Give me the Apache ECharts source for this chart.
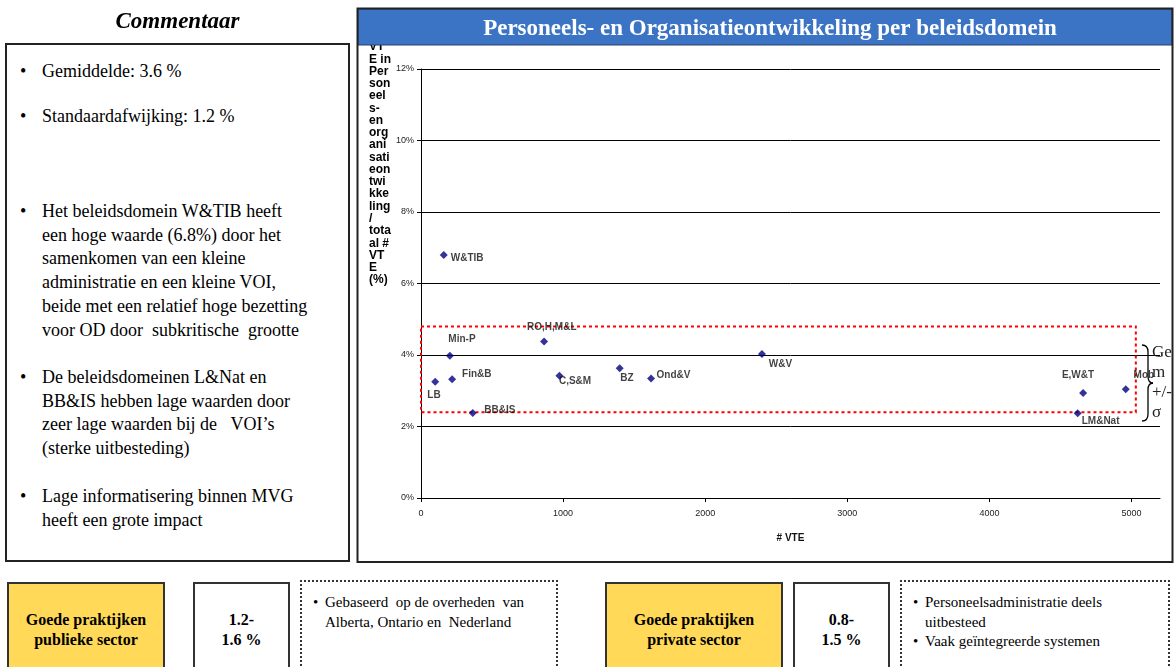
<!DOCTYPE html>
<html>
<head>
<meta charset="utf-8">
<title>Personeels- en Organisatieontwikkeling per beleidsdomein</title>
<script src="https://cdn.jsdelivr.net/npm/echarts@6/dist/echarts.min.js"></script>
<style>
  html, body { margin: 0; padding: 0; background: #fff; }
  #stage { position: relative; width: 1175px; height: 667px; overflow: hidden;
           font-family: 'Liberation Serif', 'Times New Roman', serif; color: #000; }
  #chart { position: absolute; left: 0; top: 0; width: 1175px; height: 667px; }
  .abs { position: absolute; box-sizing: border-box; }
  #commentTitle { left: 5px; top: 7px; width: 345px; text-align: center; font-weight: bold;
                  font-style: italic; font-size: 23px; line-height: 28px; }
  #commentBox { left: 5px; top: 43px; width: 345px; height: 519px; border: 2px solid #222; background: #fff; }
  .pt { position: absolute; left: 42px; font-size: 18px; line-height: 23.7px; white-space: nowrap; }
  .pt::before { content: '\2022'; position: absolute; left: -22px; }
  .yel { background: #FFD957; border: 2px solid #333; text-align: center; font-weight: bold;
         font-size: 16px; line-height: 20px; padding-top: 26px; height: 110px; }
  .wht { background: #fff; border: 2px solid #333; text-align: center; font-weight: bold;
         font-size: 16px; line-height: 20px; padding-top: 26px; height: 110px; }
  .dot { background: #fff; border: 2px dotted #333; font-size: 15px; line-height: 19.5px;
         padding-top: 11px; height: 110px; }
  .dot .li { position: relative; padding-left: 23px; white-space: nowrap; }
  .dot .li::before { content: '\2022'; position: absolute; left: 11px; }
</style>
</head>
<body>
<div id="stage">
  <div id="chart"></div>

  <div id="commentTitle" class="abs">Commentaar</div>
  <div id="commentBox" class="abs"></div>
  <div class="pt" style="top:60px">Gemiddelde: 3.6 %</div>
  <div class="pt" style="top:105px">Standaardafwijking: 1.2 %</div>
  <div class="pt" style="top:200px">Het beleidsdomein W&amp;TIB heeft<br>een hoge waarde (6.8%) door het<br>samenkomen van een kleine<br>administratie en een kleine VOI,<br>beide met een relatief hoge bezetting<br>voor OD door&nbsp; subkritische&nbsp; grootte</div>
  <div class="pt" style="top:366px">De beleidsdomeinen L&amp;Nat en<br>BB&amp;IS hebben lage waarden door<br>zeer lage waarden bij de &nbsp;&nbsp;VOI’s<br>(sterke uitbesteding)</div>
  <div class="pt" style="top:485px">Lage informatisering binnen MVG<br>heeft een grote impact</div>

  <div class="abs yel" style="left:7px;top:582px;width:158px">Goede praktijken<br>publieke sector</div>
  <div class="abs wht" style="left:193px;top:582px;width:97px">1.2-<br>1.6 %</div>
  <div class="abs dot" style="left:300px;top:580px;width:258px">
    <div class="li">Gebaseerd&nbsp; op de overheden&nbsp; van<br>Alberta, Ontario en&nbsp; Nederland</div>
  </div>

  <div class="abs yel" style="left:605px;top:582px;width:178px">Goede praktijken<br>private sector</div>
  <div class="abs wht" style="left:793px;top:582px;width:97px">0.8-<br>1.5 %</div>
  <div class="abs dot" style="left:900px;top:580px;width:270px">
    <div class="li">Personeelsadministratie deels<br>uitbesteed</div>
    <div class="li">Vaak geïntegreerde systemen</div>
  </div>
</div>

<script>
// Beleidsdomeinen with their size (# VTE) and share of VTE in personeels- en organisatieontwikkeling (%)
const domains = ['W&TIB', 'Min-P', 'LB', 'Fin&B', 'BB&IS', 'RO,H,M&L', 'C,S&M', 'BZ', 'Ond&V', 'W&V', 'E,W&T', 'Mob', 'LM&Nat'];
const vte     = [160, 203, 100, 219, 364, 866, 974, 1398, 1619, 2399, 4659, 4959, 4621];
const odShare = [6.80, 3.98, 3.25, 3.32, 2.38, 4.38, 3.42, 3.63, 3.34, 4.03, 2.94, 3.04, 2.37];

// Summary statistics (Gemiddelde, Standaardafwijking) and the extent of the band drawn around them
const gemiddelde = 3.6;
const standaardafwijking = 1.2;
const bandVteRange = [0, 5030];

// Axis ticks
const xTickValues = [0, 1000, 2000, 3000, 4000, 5000];
const yTickValues = [0, 2, 4, 6, 8, 10, 12];

const yAxisTitleLines = ['VT', 'E in', 'Per', 'son', 'eel', 's-', 'en', 'org', 'ani', 'sati', 'eon',
  'twi', 'kke', 'ling', '/', 'tota', 'al #', 'VT', 'E', '(%)'];

// Label placement for each point, relative to the top-left of its marker
const labelOffsets = [[11, 2], [2.5, -17.8], [-3.9, 12.5], [14, -6.5], [15.5, -3.2], [-13, -15.2],
  [3.5, 4.5], [4.5, 9.5], [9.5, -4.8], [10.8, 9.1], [-17.2, -18.5], [11.8, -15.1], [8, 6.5]];

const sans = "'Liberation Sans', Arial, sans-serif";
const serif = "'Liberation Serif', 'Times New Roman', serif";

const points = domains.map((name, i) => ({
  name: name,
  value: [vte[i], odShare[i]],
  label: { position: labelOffsets[i] }
}));

// Curly brace "}" next to the band, built from quadratic curves and straight segments
const braceStyle = { fill: 'none', stroke: '#000', lineWidth: 1.3 };
const brace = [
  { type: 'bezierCurve', shape: { x1: 1142, y1: 345, cpx1: 1148, cpy1: 345, x2: 1148, y2: 352 } },
  { type: 'line', shape: { x1: 1148, y1: 352, x2: 1148, y2: 376 } },
  { type: 'bezierCurve', shape: { x1: 1148, y1: 376, cpx1: 1148, cpy1: 383, x2: 1153, y2: 383 } },
  { type: 'bezierCurve', shape: { x1: 1153, y1: 383, cpx1: 1148, cpy1: 383, x2: 1148, y2: 390 } },
  { type: 'line', shape: { x1: 1148, y1: 390, x2: 1148, y2: 414 } },
  { type: 'bezierCurve', shape: { x1: 1148, y1: 414, cpx1: 1148, cpy1: 421, x2: 1142, y2: 421 } }
].map(el => Object.assign(el, { z: 5, style: braceStyle }));

const chart = echarts.init(document.getElementById('chart'), null, { renderer: 'canvas' });

chart.setOption({
  animation: false,
  backgroundColor: 'transparent',
  grid: { left: 421, right: 15, top: 69, bottom: 169, containLabel: false },
  xAxis: {
    type: 'value',
    min: 0,
    max: 5200,
    interval: 1000,
    name: '# VTE',
    nameLocation: 'middle',
    nameGap: 35,
    nameTextStyle: { fontFamily: sans, fontWeight: 'bold', fontSize: 10, color: '#111' },
    axisLine: { show: true, onZero: false, lineStyle: { color: '#000', width: 1 } },
    axisTick: { show: true, inside: false, length: 4, customValues: xTickValues, lineStyle: { color: '#000' } },
    axisLabel: { customValues: xTickValues, formatter: v => String(v), margin: 11,
                 fontFamily: sans, fontSize: 9, color: '#222' },
    splitLine: { show: false }
  },
  yAxis: {
    type: 'value',
    min: 0,
    max: 12,
    interval: 2,
    axisLine: { show: true, lineStyle: { color: '#000', width: 1 } },
    axisTick: { show: true, inside: false, length: 4, lineStyle: { color: '#000' } },
    axisLabel: { formatter: '{value}%', margin: 7, fontFamily: sans, fontSize: 9, color: '#222' },
    splitLine: { show: true, lineStyle: { color: '#000', width: 1 } }
  },
  series: [{
    type: 'scatter',
    symbol: 'diamond',
    symbolSize: 8,
    itemStyle: { color: '#000080' },
    label: {
      show: true,
      formatter: '{b}',
      fontFamily: sans,
      fontWeight: 'bold',
      fontSize: 10,
      color: '#111'
    },
    emphasis: { disabled: true },
    data: points,
    markArea: {
      silent: true,
      itemStyle: { color: 'rgba(0,0,0,0)', borderColor: '#ff0000', borderWidth: 2, borderType: [3, 3] },
      label: { show: false },
      data: [[
        { coord: [bandVteRange[0], gemiddelde + standaardafwijking] },
        { coord: [bandVteRange[1], gemiddelde - standaardafwijking] }
      ]]
    },
    z: 3
  }],
  graphic: [
    {
      type: 'text', z: 1, x: 369, y: 40.9,
      style: { text: yAxisTitleLines.join('\n'), font: 'bold 12px ' + sans, lineHeight: 12.26, fill: '#000',
               textVerticalAlign: 'top' }
    },
    {
      type: 'rect', z: 10,
      shape: { x: 358, y: 9, width: 814, height: 36 },
      style: { fill: '#3B74C4', stroke: '#2c3e66', lineWidth: 1 }
    },
    {
      type: 'text', z: 11, x: 770, y: 29,
      style: { text: 'Personeels- en Organisatieontwikkeling per beleidsdomein', font: 'bold 23px ' + serif,
               fill: '#fff', textAlign: 'center', textVerticalAlign: 'middle' }
    },
    {
      type: 'rect', z: 12,
      shape: { x: 357.5, y: 8.5, width: 815, height: 553.5 },
      style: { fill: 'none', stroke: '#222', lineWidth: 2 }
    },
    ...brace,
    {
      type: 'text', z: 5, x: 1152, y: 343,
      style: { text: 'Ge\nm\n+/-\nσ', font: '17px ' + serif, lineHeight: 20, fill: '#222', textVerticalAlign: 'top' }
    }
  ]
});
</script>
</body>
</html>
